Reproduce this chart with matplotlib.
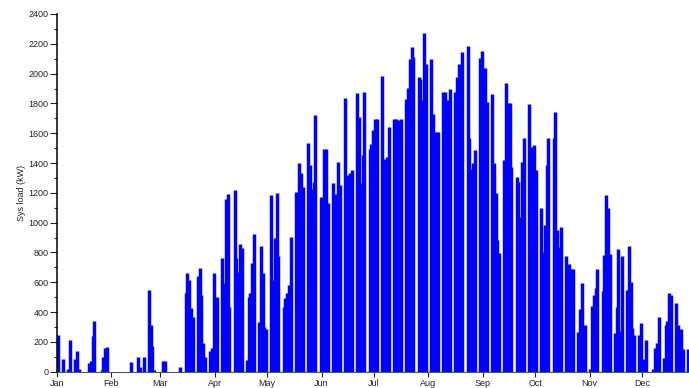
import matplotlib

matplotlib.use("Agg")
import matplotlib.pyplot as plt
import numpy as np
from matplotlib.ticker import MultipleLocator

plt.rcParams["font.family"] = ["Liberation Sans", "DejaVu Sans"]

# daily peak system load (kW), one list per month
jan = [247, 0, 0, 85, 0, 0, 18, 213, 0, 0, 85, 139, 18, 0, 0, 0, 0, 0, 56, 72, 240,
       337, 0, 0, 0, 10, 101, 160, 168, 0, 0]
feb = [0, 0, 0, 0, 0, 0, 0, 0, 0, 0, 0, 67, 0, 0, 0, 101, 34, 0, 97, 0, 0,
       546, 315, 173, 10, 0, 0, 0]
mar = [0, 74, 74, 0, 0, 0, 0, 0, 0, 0, 0, 34, 0, 0, 525, 659, 614, 425, 369, 0, 0,
       643, 699, 514, 190, 100, 0, 0, 141, 156, 659]
apr = [395, 503, 0, 0, 766, 592, 1162, 1189, 436, 0, 0, 1218, 760, 670, 860, 827, 0, 0, 78, 503, 525,
       731, 921, 0, 0, 335, 842, 659, 302, 284]
may = [0, 0, 1184, 614, 894, 1202, 775, 0, 0, 436, 492, 525, 581, 905, 0, 0, 1207, 1133, 1401, 1330, 1240,
       0, 0, 1537, 1385, 1229, 1274, 1720, 0, 0, 1173]
jun = [1140, 1493, 1493, 1135, 0, 0, 1267, 749, 1195, 1408, 1251, 0, 0, 1837, 1318, 1285, 1330, 1352, 0, 0, 1870,
       1709, 1263, 1452, 1877, 0, 0, 1497, 1526, 1620]
jul = [1698, 1698, 0, 0, 1982, 1430, 1379, 1441, 1642, 0, 0, 1698, 1698, 1587, 1687, 1698, 0, 0, 1830, 1905, 2095,
       2180, 2110, 0, 0, 1978, 1966, 1821, 2273, 2067, 0]
aug = [0, 2101, 1730, 1330, 1609, 1609, 0, 0, 1877, 1877, 1700, 1821, 1900, 0, 0, 1877, 1978, 2067, 2030, 2145, 0,
       0, 2186, 1565, 1363, 1397, 1486, 0, 0, 2108, 2150]
sep = [2022, 2038, 1810, 0, 0, 1866, 1397, 1197, 883, 795, 0, 0, 1419, 1938, 1804, 1800, 1375, 0, 0, 1307, 1274,
       1039, 1408, 1565, 0, 0, 1795, 1508, 1229, 1520]
oct = [1352, 0, 0, 1100, 805, 983, 1386, 1565, 0, 0, 1565, 1743, 950, 840, 972, 0, 0, 776, 514, 720, 686,
       686, 0, 0, 268, 418, 592, 280, 313, 0, 0]
nov = [20, 440, 514, 560, 686, 0, 0, 543, 782, 1184, 1095, 787, 0, 0, 262, 436, 823, 273, 776, 0, 0,
       548, 843, 604, 291, 246, 0, 0, 246, 324]
dec = [83, 40, 212, 0, 0, 0, 15, 157, 190, 369, 0, 0, 89, 313, 340, 530, 514, 0, 0, 458, 313,
       145, 284, 150, 0, 0, 150, 0, 0, 0, 0]

month_labels = ["Jan", "Feb", "Mar", "Apr", "May", "Jun", "Jul", "Aug", "Sep", "Oct", "Nov", "Dec"]

months = [jan, feb, mar, apr, may, jun, jul, aug, sep, oct, nov, dec]
peaks = np.concatenate([np.array(m, dtype=float) for m in months])
days = np.arange(len(peaks))
month_starts = np.cumsum([0] + [len(m) for m in months[:-1]])

W, H = 689, 388
fig = plt.figure(figsize=(W / 100, H / 100), dpi=100)
ax = fig.add_axes([57 / W, (H - 371.7) / H, 639.5 / W, (371.7 - 14) / H])

ax.vlines(days + 0.4, 0, peaks, colors="#0000ff", lw=2.5)

ax.set_xlim(0, 365)
ax.set_ylim(0, 2400)
for side in ("top", "right"):
    ax.spines[side].set_visible(False)
ax.spines["left"].set_linewidth(1.1)
ax.spines["bottom"].set_color("#555555")

ax.yaxis.set_major_locator(MultipleLocator(200))
ax.yaxis.set_minor_locator(MultipleLocator(100))
ax.tick_params(axis="y", which="major", length=5, width=0.8, labelsize=6.5, pad=1, colors="#222222")
ax.tick_params(axis="y", which="minor", length=2.4, width=0.8, colors="#222222")
ax.set_xticks(month_starts)
ax.set_xticklabels(month_labels)
ax.tick_params(axis="x", which="major", length=3.5, width=0.8, labelsize=6.5, pad=1.5, colors="#222222")

ax.set_ylabel("Sys load (kW)", fontsize=6.5, labelpad=2, color="#222222")

fig.savefig("out.png", dpi=100)
